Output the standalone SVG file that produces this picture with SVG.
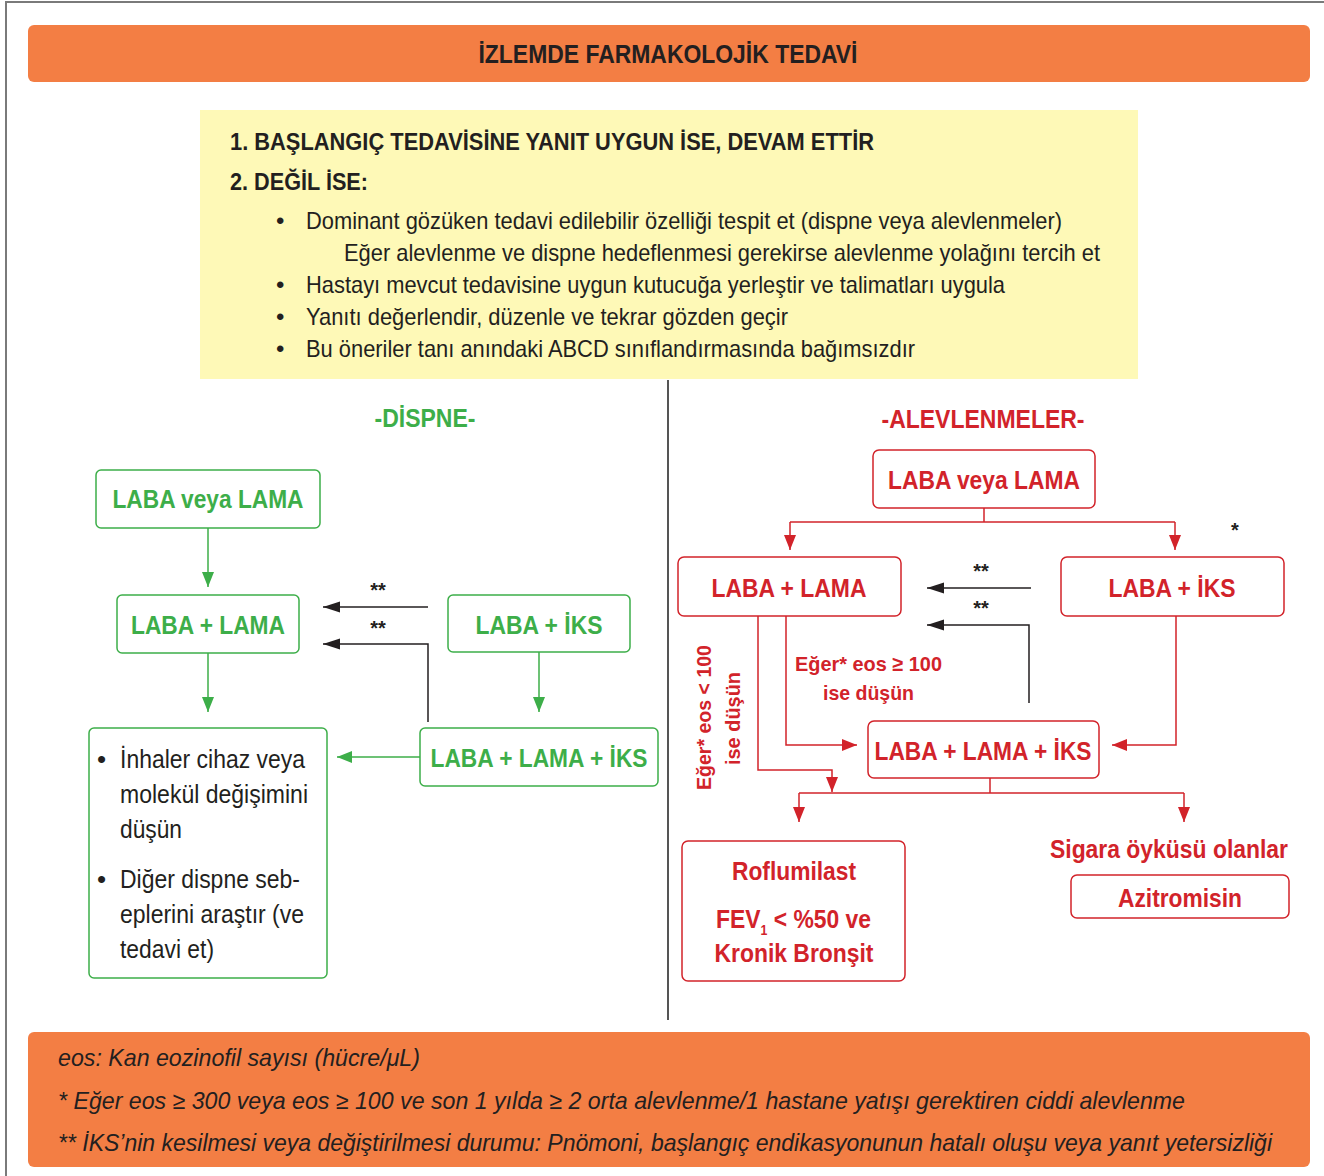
<svg xmlns="http://www.w3.org/2000/svg" width="1324" height="1176" viewBox="0 0 1324 1176">
<defs>
<style>
text{font-family:'Liberation Sans Narrow','Liberation Sans',Arial,sans-serif;}
.b{font-weight:bold;}
.dk{fill:#231f20;}
.g{fill:#3dae49;}
.r{fill:#d2232a;}
.gbox{fill:#fff;stroke:#3dae49;stroke-width:1.5;}
.rbox{fill:#fff;stroke:#d2232a;stroke-width:1.5;}
.gl{fill:none;stroke:#3dae49;stroke-width:1.5;}
.rl{fill:none;stroke:#d2232a;stroke-width:1.5;}
.kl{fill:none;stroke:#231f20;stroke-width:1.5;}
.nt{font-size:26px;font-weight:bold;text-anchor:middle;}
.bt{font-size:24px;}
.ft{font-size:24px;font-style:italic;fill:#231f20;}
</style>
<marker id="ag" markerUnits="userSpaceOnUse" markerWidth="16" markerHeight="14" refX="15" refY="7" orient="auto"><path d="M0,1 L15,7 L0,13 Z" fill="#3dae49"/></marker>
<marker id="ar" markerUnits="userSpaceOnUse" markerWidth="16" markerHeight="14" refX="15" refY="7" orient="auto"><path d="M0,1 L15,7 L0,13 Z" fill="#d2232a"/></marker>
<marker id="ak" markerUnits="userSpaceOnUse" markerWidth="18" markerHeight="14" refX="17" refY="7" orient="auto"><path d="M0,1.5 L17,7 L0,12.5 Z" fill="#231f20"/></marker>
</defs>
<rect width="1324" height="1176" fill="#fff"/>
<path d="M6,1176 V2 H1324" fill="none" stroke="#7a7a7a" stroke-width="2"/>

<g id="header">
<rect x="28" y="25" width="1282" height="57" rx="6" fill="#f37e44"/>
<text x="668" y="63" class="b dk" font-size="25" text-anchor="middle" textLength="379" lengthAdjust="spacingAndGlyphs">İZLEMDE FARMAKOLOJİK TEDAVİ</text>
</g>

<g id="intro">
<rect x="200" y="110" width="938" height="269" fill="#fef9b7"/>
<text x="230" y="150" class="b dk" font-size="24" textLength="644" lengthAdjust="spacingAndGlyphs">1. BAŞLANGIÇ TEDAVİSİNE YANIT UYGUN İSE, DEVAM ETTİR</text>
<text x="230" y="190" class="b dk" font-size="24" textLength="138" lengthAdjust="spacingAndGlyphs">2. DEĞİL İSE:</text>
<text x="276" y="229" class="bt dk">•</text>
<text x="306" y="229" class="bt dk" textLength="756" lengthAdjust="spacingAndGlyphs">Dominant gözüken tedavi edilebilir özelliği tespit et (dispne veya alevlenmeler)</text>
<text x="344" y="261" class="bt dk" textLength="756" lengthAdjust="spacingAndGlyphs">Eğer alevlenme ve dispne hedeflenmesi gerekirse alevlenme yolağını tercih et</text>
<text x="276" y="293" class="bt dk">•</text>
<text x="306" y="293" class="bt dk" textLength="699" lengthAdjust="spacingAndGlyphs">Hastayı mevcut tedavisine uygun kutucuğa yerleştir ve talimatları uygula</text>
<text x="276" y="325" class="bt dk">•</text>
<text x="306" y="325" class="bt dk" textLength="482" lengthAdjust="spacingAndGlyphs">Yanıtı değerlendir, düzenle ve tekrar gözden geçir</text>
<text x="276" y="357" class="bt dk">•</text>
<text x="306" y="357" class="bt dk" textLength="609" lengthAdjust="spacingAndGlyphs">Bu öneriler tanı anındaki ABCD sınıflandırmasında bağımsızdır</text>
</g>

<line id="divider" x1="668" y1="380" x2="668" y2="1020" stroke="#555" stroke-width="2"/>

<g id="dispne-title"><text x="425" y="427" class="b g" font-size="25" text-anchor="middle" textLength="101" lengthAdjust="spacingAndGlyphs">-DİSPNE-</text></g>
<g id="alev-title"><text x="983" y="428" class="b r" font-size="25" text-anchor="middle" textLength="203" lengthAdjust="spacingAndGlyphs">-ALEVLENMELER-</text></g>

<g id="d-laba-veya-lama">
<rect class="gbox" x="96" y="470" width="224" height="58" rx="5"/>
<text class="nt g" x="208" y="508" textLength="191" lengthAdjust="spacingAndGlyphs">LABA veya LAMA</text>
</g>
<g id="d-laba-lama">
<rect class="gbox" x="117" y="595" width="182" height="58" rx="5"/>
<text class="nt g" x="208" y="634" textLength="154" lengthAdjust="spacingAndGlyphs">LABA + LAMA</text>
</g>
<g id="d-laba-iks">
<rect class="gbox" x="448" y="595" width="182" height="57" rx="5"/>
<text class="nt g" x="539" y="634" textLength="127" lengthAdjust="spacingAndGlyphs">LABA + İKS</text>
</g>
<g id="d-triple">
<rect class="gbox" x="420" y="728" width="238" height="58" rx="5"/>
<text class="nt g" x="539" y="767" textLength="217" lengthAdjust="spacingAndGlyphs">LABA + LAMA + İKS</text>
</g>
<g id="d-advice">
<rect class="gbox" x="89" y="728" width="238" height="250" rx="5"/>
<g font-size="26" class="dk">
<text x="97" y="768">•</text>
<text x="120" y="768" textLength="185" lengthAdjust="spacingAndGlyphs">İnhaler cihaz veya</text>
<text x="120" y="803" textLength="188" lengthAdjust="spacingAndGlyphs">molekül değişimini</text>
<text x="120" y="838" textLength="62" lengthAdjust="spacingAndGlyphs">düşün</text>
<text x="97" y="888">•</text>
<text x="120" y="888" textLength="180" lengthAdjust="spacingAndGlyphs">Diğer dispne seb-</text>
<text x="120" y="923" textLength="184" lengthAdjust="spacingAndGlyphs">eplerini araştır (ve</text>
<text x="120" y="958" textLength="94" lengthAdjust="spacingAndGlyphs">tedavi et)</text>
</g>
</g>

<g id="a-laba-veya-lama">
<rect class="rbox" x="873" y="450" width="222" height="58" rx="6"/>
<text class="nt r" x="984" y="489" textLength="192" lengthAdjust="spacingAndGlyphs">LABA veya LAMA</text>
</g>
<g id="a-laba-lama">
<rect class="rbox" x="678" y="557" width="223" height="59" rx="6"/>
<text class="nt r" x="789" y="597" textLength="155" lengthAdjust="spacingAndGlyphs">LABA + LAMA</text>
</g>
<g id="a-laba-iks">
<rect class="rbox" x="1061" y="557" width="223" height="59" rx="6"/>
<text class="nt r" x="1172" y="597" textLength="127" lengthAdjust="spacingAndGlyphs">LABA + İKS</text>
</g>
<g id="a-triple">
<rect class="rbox" x="868" y="721" width="231" height="57" rx="6"/>
<text class="nt r" x="983" y="760" textLength="217" lengthAdjust="spacingAndGlyphs">LABA + LAMA + İKS</text>
</g>
<g id="a-roflumilast">
<rect class="rbox" x="682" y="841" width="223" height="140" rx="6"/>
<text class="nt r" x="794" y="880" textLength="124" lengthAdjust="spacingAndGlyphs">Roflumilast</text>
<text class="b r" font-size="26" x="716" y="928" textLength="155" lengthAdjust="spacingAndGlyphs">FEV<tspan font-size="14" dy="7">1</tspan><tspan dy="-7"> &lt; %50 ve</tspan></text>
<text class="nt r" x="794" y="962" textLength="159" lengthAdjust="spacingAndGlyphs">Kronik Bronşit</text>
</g>
<g id="a-sigara">
<text class="nt r" x="1169" y="858" textLength="238" lengthAdjust="spacingAndGlyphs">Sigara öyküsü olanlar</text>
</g>
<g id="a-azitromisin">
<rect class="rbox" x="1071" y="875" width="218" height="43" rx="6"/>
<text class="nt r" x="1180" y="907" textLength="124" lengthAdjust="spacingAndGlyphs">Azitromisin</text>
</g>

<g id="connectors">
<line class="gl" x1="208" y1="528" x2="208" y2="587" marker-end="url(#ag)"/>
<line class="gl" x1="208" y1="653" x2="208" y2="712" marker-end="url(#ag)"/>
<line class="gl" x1="539" y1="652" x2="539" y2="712" marker-end="url(#ag)"/>
<line class="gl" x1="420" y1="757" x2="337" y2="757" marker-end="url(#ag)"/>
<line class="kl" x1="428" y1="607" x2="323" y2="607" marker-end="url(#ak)"/>
<polyline class="kl" points="428,722 428,644 323,644" marker-end="url(#ak)"/>
<line class="rl" x1="984" y1="508" x2="984" y2="522"/>
<polyline class="rl" points="790,522 1175,522"/>
<line class="rl" x1="790" y1="522" x2="790" y2="550" marker-end="url(#ar)"/>
<line class="rl" x1="1175" y1="522" x2="1175" y2="550" marker-end="url(#ar)"/>
<line class="kl" x1="1031" y1="588" x2="927" y2="588" marker-end="url(#ak)"/>
<polyline class="kl" points="1029,703 1029,625 927,625" marker-end="url(#ak)"/>
<polyline class="rl" points="758,616 758,770 832,770 832,792" marker-end="url(#ar)"/>
<polyline class="rl" points="786,616 786,745 857,745" marker-end="url(#ar)"/>
<polyline class="rl" points="1176,616 1176,745 1112,745" marker-end="url(#ar)"/>
<line class="rl" x1="990" y1="778" x2="990" y2="793"/>
<line class="rl" x1="799" y1="793" x2="1184" y2="793"/>
<line class="rl" x1="799" y1="793" x2="799" y2="822" marker-end="url(#ar)"/>
<line class="rl" x1="1184" y1="793" x2="1184" y2="822" marker-end="url(#ar)"/>
<g class="b dk" font-size="20" text-anchor="middle">
<text x="378" y="597">**</text>
<text x="378" y="635">**</text>
<text x="981" y="578">**</text>
<text x="981" y="615">**</text>
<text x="1235" y="537">*</text>
</g>
<g class="b r" font-size="21">
<text x="795" y="671" textLength="147" lengthAdjust="spacingAndGlyphs">Eğer* eos ≥ 100</text>
<text x="823" y="700" textLength="91" lengthAdjust="spacingAndGlyphs">ise düşün</text>
<text transform="translate(711,790) rotate(-90)" textLength="145" lengthAdjust="spacingAndGlyphs">Eğer* eos &lt; 100</text>
<text transform="translate(740,765) rotate(-90)" textLength="93" lengthAdjust="spacingAndGlyphs">ise düşün</text>
</g>
</g>

<g id="footer">
<rect x="28" y="1032" width="1282" height="135" rx="6" fill="#f37e44"/>
<text class="ft" x="58" y="1066" textLength="362" lengthAdjust="spacingAndGlyphs">eos: Kan eozinofil sayısı (hücre/μL)</text>
<text class="ft" x="58" y="1109" textLength="1127" lengthAdjust="spacingAndGlyphs">* Eğer eos ≥ 300 veya eos ≥ 100 ve son 1 yılda ≥ 2 orta alevlenme/1 hastane yatışı gerektiren ciddi alevlenme</text>
<text class="ft" x="58" y="1151" textLength="1214" lengthAdjust="spacingAndGlyphs">** İKS’nin kesilmesi veya değiştirilmesi durumu: Pnömoni, başlangıç endikasyonunun hatalı oluşu veya yanıt yetersizliği</text>
</g>
</svg>
